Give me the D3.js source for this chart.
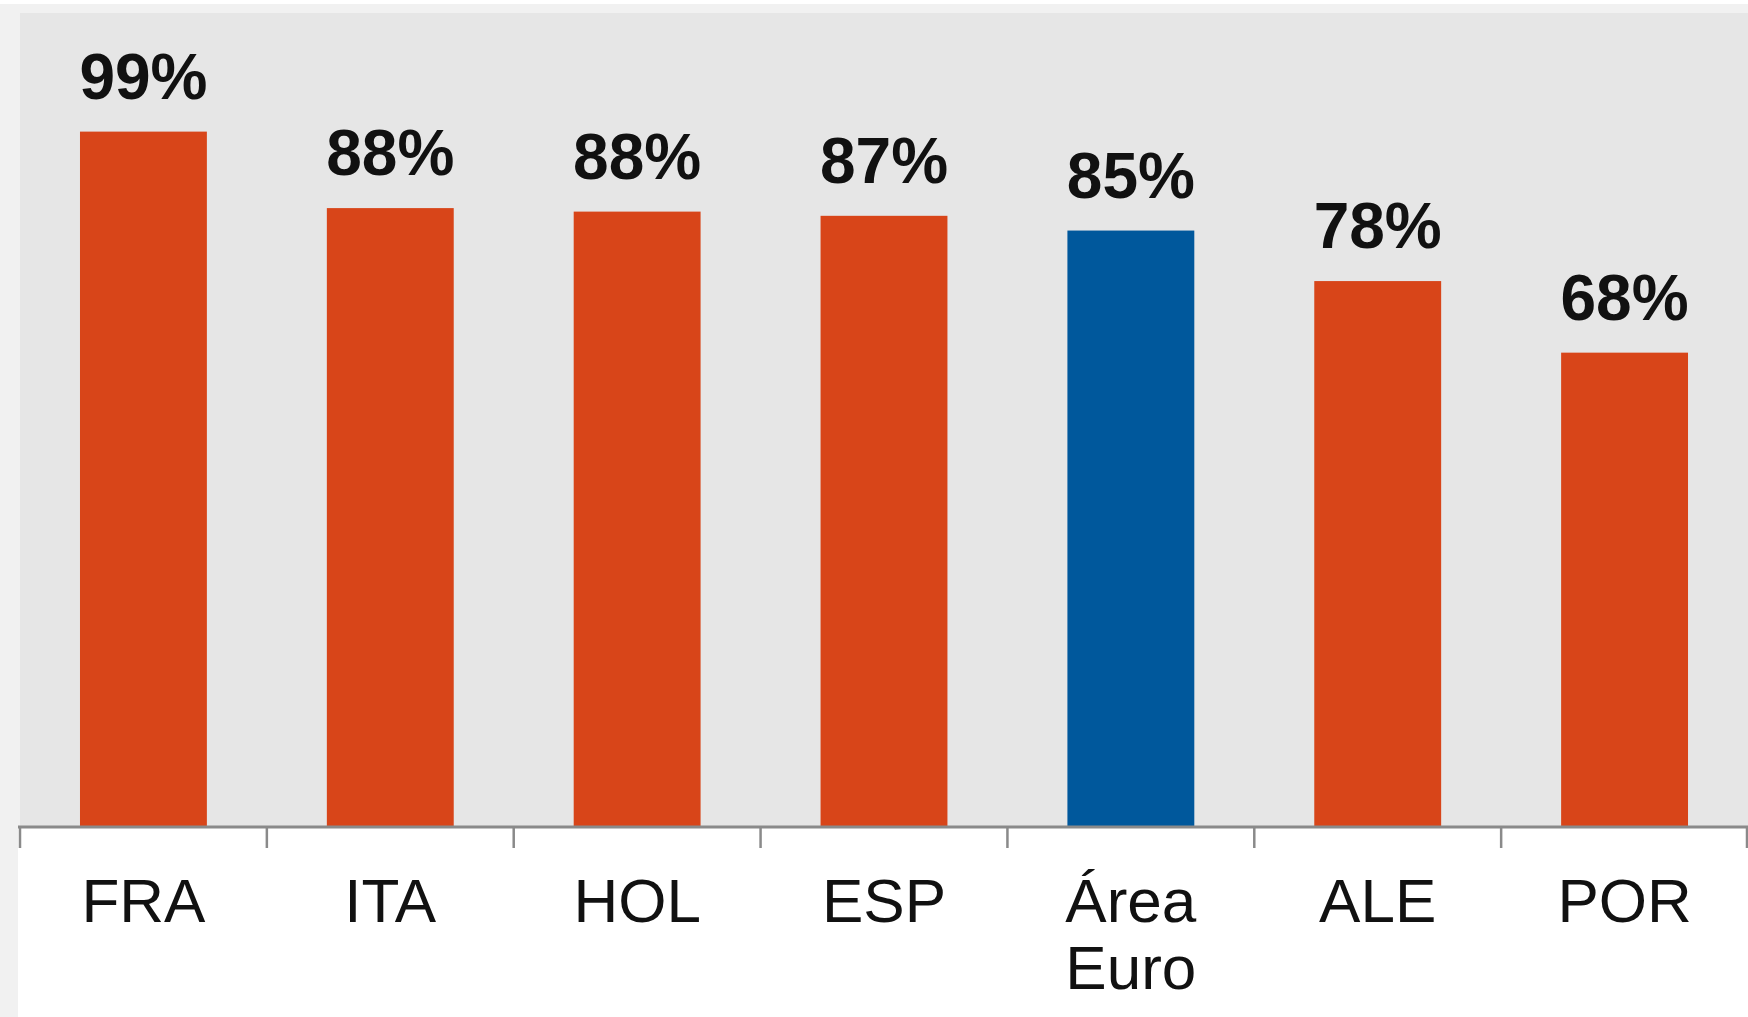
<!DOCTYPE html>
<html>
<head>
<meta charset="utf-8">
<script src="https://cdn.jsdelivr.net/npm/d3@7"></script>
<style>
  body { margin: 0; background: #fff; }
  svg { display: block; }
</style>
</head>
<body>
<svg id="chart"></svg>
<script>
// Data
var categories = ['FRA', 'ITA', 'HOL', 'ESP', 'Área Euro', 'ALE', 'POR'];
var values = [99.1, 88.2, 87.7, 87.1, 85.0, 77.8, 67.6];
var highlight = ['Área Euro'];

var config = {
  width: 1748,
  height: 1017,
  plotLeft: 20,
  plotTop: 13,
  axisY: 827,
  yMax: 116,
  orange: '#d84519',
  blue: '#00589c',
  plotBg: '#e6e6e6',
  frameBg: '#f1f1f1',
  axisColor: '#8a8a8a',
  valueFontSize: 64,
  labelFontSize: 62,
  labelGap: 33,
}

var svg = d3.select('#chart')
  .attr('width', config.width)
  .attr('height', config.height);

// light frame on the left and top
svg.append('rect')
  .attr('x', 0).attr('y', 4)
  .attr('width', config.width).attr('height', config.height - 4)
  .attr('fill', config.frameBg);
svg.append('rect')
  .attr('x', config.plotLeft - 2).attr('y', config.axisY)
  .attr('width', config.width).attr('height', config.height - config.axisY)
  .attr('fill', '#fff');
// plot background
svg.append('rect')
  .attr('x', config.plotLeft).attr('y', config.plotTop)
  .attr('width', config.width - config.plotLeft)
  .attr('height', config.axisY - config.plotTop)
  .attr('fill', config.plotBg);

var x = d3.scaleBand()
  .domain(categories)
  .range([config.plotLeft, config.width])
  .paddingInner(0.486)
  .paddingOuter(0.243);

var y = d3.scaleLinear()
  .domain([0, config.yMax])
  .range([config.axisY, config.axisY - config.yMax * 7.017]);

// bars
svg.selectAll('.bar')
  .data(categories)
  .enter().append('rect')
  .attr('class', 'bar')
  .attr('x', function(d) { return x(d); })
  .attr('width', x.bandwidth())
  .attr('y', function(d, i) { return y(values[i]); })
  .attr('height', function(d, i) { return y(0) - y(values[i]); })
  .attr('fill', function(d) { return highlight.indexOf(d) >= 0 ? config.blue : config.orange; });

// value labels
svg.selectAll('.value')
  .data(categories)
  .enter().append('text')
  .attr('class', 'value')
  .attr('x', function(d) { return x(d) + x.bandwidth() / 2; })
  .attr('y', function(d, i) { return y(values[i]) - config.labelGap; })
  .attr('text-anchor', 'middle')
  .attr('font-family', 'Liberation Sans, Arial, sans-serif')
  .attr('font-weight', 'bold')
  .attr('font-size', config.valueFontSize + 'px')
  .attr('fill', '#111')
  .text(function(d, i) { return Math.round(values[i]) + '%'; });

// x axis: baseline plus ticks at band edges
var step = x.step();
var edges = d3.range(categories.length + 1).map(function(i) {
  return config.plotLeft + i * step;
});
svg.append('line')
  .attr('x1', config.plotLeft - 2).attr('x2', config.width)
  .attr('y1', config.axisY).attr('y2', config.axisY)
  .attr('stroke', config.axisColor)
  .attr('stroke-width', 3);
svg.selectAll('.tick')
  .data(edges)
  .enter().append('line')
  .attr('class', 'tick')
  .attr('x1', function(d) { return Math.min(d, config.width - 1); })
  .attr('x2', function(d) { return Math.min(d, config.width - 1); })
  .attr('y1', config.axisY).attr('y2', config.axisY + 21)
  .attr('stroke', config.axisColor)
  .attr('stroke-width', 2.5);

// category labels (wrap "Área Euro" on two lines)
var labels = svg.selectAll('.cat')
  .data(categories)
  .enter().append('text')
  .attr('class', 'cat')
  .attr('text-anchor', 'middle')
  .attr('font-family', 'Liberation Sans, Arial, sans-serif')
  .attr('font-size', config.labelFontSize + 'px')
  .attr('fill', '#111')
  .attr('y', 922);
labels.each(function(d) {
  var words = d.split(' ');
  var t = d3.select(this);
  words.forEach(function(w, k) {
    t.append('tspan')
      .attr('x', x(d) + x.bandwidth() / 2)
      .attr('dy', k === 0 ? 0 : 67)
      .text(w);
  });
});
</script>
</body>
</html>
